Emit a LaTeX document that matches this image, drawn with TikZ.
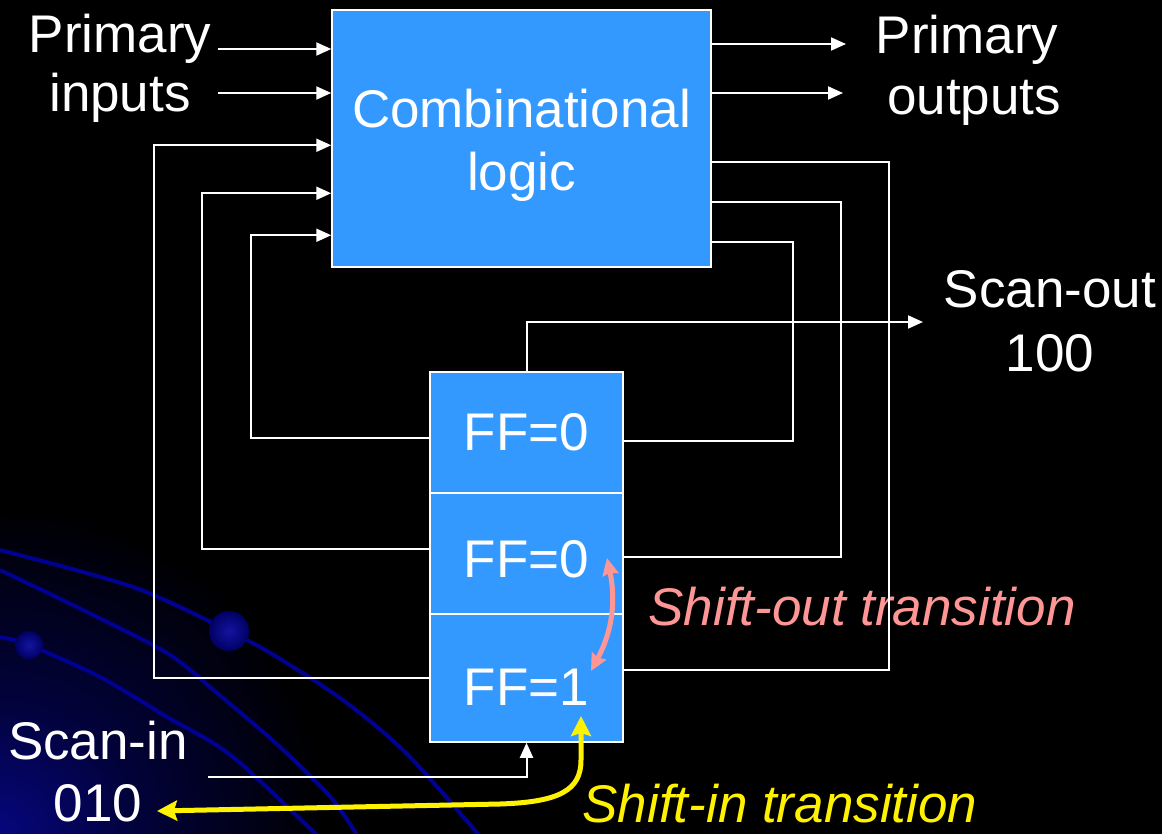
\documentclass[tikz,border=0pt]{standalone}
\usepackage{fontspec}
\setmainfont{Liberation Sans}
\usetikzlibrary{arrows.meta,calc}
\definecolor{boxblue}{RGB}{51,153,255}
\definecolor{deco}{RGB}{0,0,145}
\definecolor{pinkish}{RGB}{255,150,150}
\definecolor{cornerblue}{RGB}{6,6,125}
\definecolor{midblue}{RGB}{2,2,60}
\definecolor{dotin}{RGB}{20,20,160}
\definecolor{dotout}{RGB}{0,0,100}
\pgfdeclareradialshading{cornerglow}{\pgfpoint{0bp}{0bp}}{color(0bp)=(cornerblue); color(10bp)=(midblue); color(25bp)=(black); color(50bp)=(black)}
\begin{document}
\begin{tikzpicture}[x=1pt,y=-1pt,
  lbl/.style={text=white, inner sep=0pt, align=center},
  block/.style={draw=white, line width=1.5pt, fill=boxblue, text=white, inner sep=0pt, align=center, font=\fontsize{53}{63}\selectfont},
  wire/.style={draw=white, line width=2pt},
  arr/.style={-{Triangle[length=15pt,width=13pt]}},
  decoline/.style={draw=deco, line width=4pt},
  yel/.style={draw=yellow, line width=5pt, {Stealth[length=20pt,width=20pt,inset=3pt]}-{Stealth[length=20pt,width=20pt,inset=3pt]}},
  pnk/.style={draw=pinkish, line width=5pt, {Stealth[length=17pt,width=16pt,inset=2pt]}-{Stealth[length=17pt,width=16pt,inset=2pt]}}
]
\useasboundingbox (0,0) rectangle (1162,833);
% background
\fill[black] (-6,-6) rectangle (1168,839);
\begin{scope}
  \clip (-6,-6) rectangle (1168,839);
  \shade[shading=cornerglow] (0,833) circle[radius=330pt];
  \draw[decoline] plot[smooth] coordinates {(0,550) (133,587) (229,631) (277,657) (347,703) (410,757) (490,848)};
  \draw[decoline] plot[smooth] coordinates {(0,570) (83,610) (167,653) (217,693) (280,747) (333,800) (365,848)};
  \draw[decoline] plot[smooth] coordinates {(0,637) (29,645) (100,677) (167,717) (233,757) (330,848)};
  \shade[inner color=dotin, outer color=dotout] (229,631) circle[radius=20pt];
  \shade[inner color=dotin, outer color=dotout] (29,645) circle[radius=14pt];
\end{scope}

% blocks
\node[block, minimum width=379pt, minimum height=257pt] (comb) at (521.5,138.5) {\rule{0pt}{51pt}Combinational\\logic};
\node[block, minimum width=193pt, minimum height=121pt] (fa) at (526.5,432.5) {FF=0};
\node[block, minimum width=193pt, minimum height=121pt] (fb) at (526.5,553.5) {\rule{0pt}{49pt}FF=0};
\node[block, minimum width=193pt, minimum height=128pt] (fc) at (526.5,678) {\rule{0pt}{54pt}FF=1};

% labels
\node[lbl, font=\fontsize{53}{59}\selectfont] (pin) at (120,68) {Primary\\inputs};
\node[lbl, font=\fontsize{53}{61}\selectfont] (pout) at (967,70) {Primary\\\hspace*{14pt}outputs};
\node[lbl, font=\fontsize{53}{64}\selectfont] (sout) at (1050,321) {Scan-out\\100};
\node[lbl, font=\fontsize{53}{62}\selectfont] (sin) at (98,772) {Scan-in\\010};
\node[lbl, anchor=base, text=pinkish, font=\fontsize{53}{63}\selectfont\itshape] (tso) at (862,625) {Shift-out transition};
\node[lbl, anchor=base, text=yellow, font=\fontsize{53}{63}\selectfont\itshape] (tsi) at (780,822) {Shift-in transition};

% coordinates
\coordinate (pi1) at (218,49);
\coordinate (pi2) at (218,93);
\coordinate (po1) at (846,44);
\coordinate (po2) at (843,93);
\coordinate (so) at (923,322);
\coordinate (si) at (208,777);
\coordinate (ci1) at ($(comb.north west)+(0,136)$);
\coordinate (ci2) at ($(comb.north west)+(0,184)$);
\coordinate (ci3) at ($(comb.north west)+(0,226)$);
\coordinate (co1) at ($(comb.north east)+(0,153)$);
\coordinate (co2) at ($(comb.north east)+(0,193)$);
\coordinate (co3) at ($(comb.north east)+(0,233)$);
\coordinate (yA) at (581,716);
\coordinate (yB) at (157,811);
\coordinate (pA) at (607,558);
\coordinate (pB) at (591,671);

% primary in/out
\draw[wire,arr] (pi1) -- (comb.west |- pi1);
\draw[wire,arr] (pi2) -- (comb.west |- pi2);
\draw[wire,arr] (comb.east |- po1) -- (po1);
\draw[wire,arr] (comb.east |- po2) -- (po2);

% feedback from flip-flops into logic
\draw[wire,arr] ([yshift=-5.5pt]fa.west) -- ++(-178,0) |- (ci3);
\draw[wire,arr] ([yshift=4.5pt]fb.west) -- ++(-227,0) |- (ci2);
\draw[wire,arr] (fc.west) -- ++(-275,0) |- (ci1);

% logic outputs into flip-flops
\draw[wire] (co3) -- ++(81,0) |- ([yshift=-8.5pt]fa.east);
\draw[wire] (co2) -- ++(129,0) |- ([yshift=-3.5pt]fb.east);
\draw[wire] (co1) -- ++(177,0) |- ([yshift=8pt]fc.east);

% scan chain
\draw[wire,arr] (fa.north) |- (so);
\draw[wire,arr] (si) -| (fc.south);

% transitions
\draw[yel] (yB) -- (500,804) .. controls (560,802) and (581,790) .. (581,760) -- (yA);
\draw[pnk] (pA) to[bend left=20] (pB);
\end{tikzpicture}
\end{document}
